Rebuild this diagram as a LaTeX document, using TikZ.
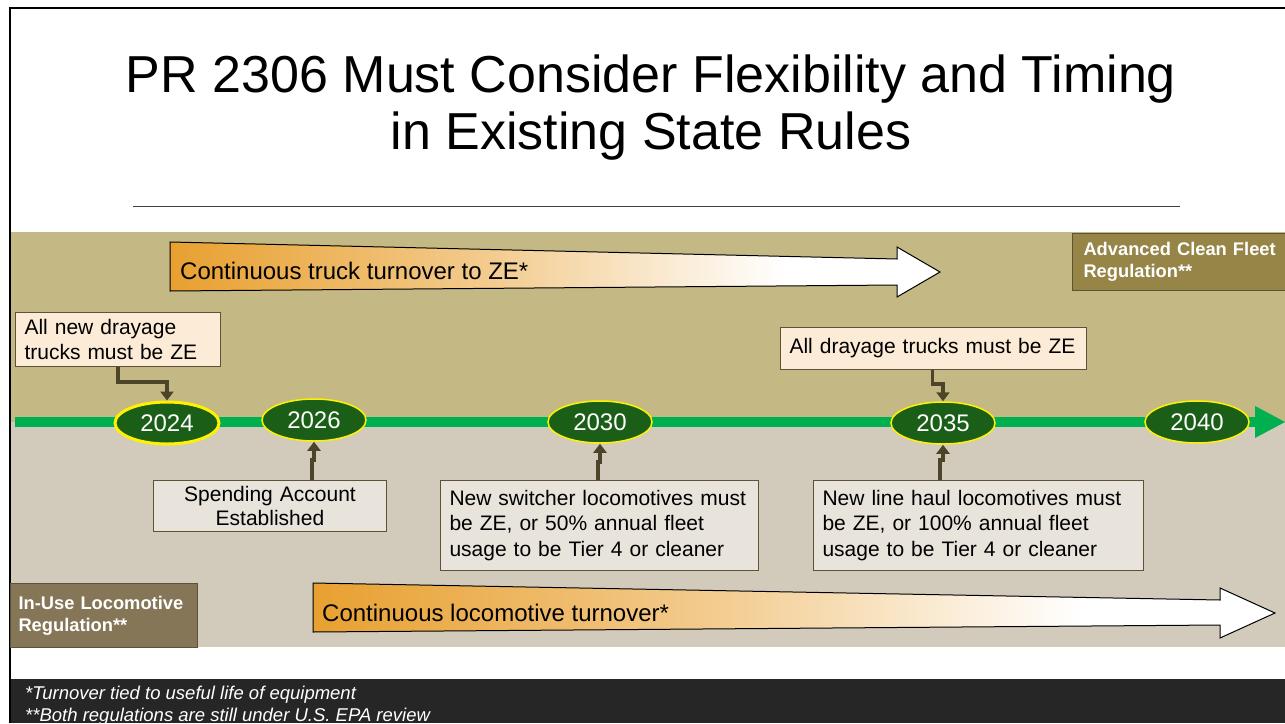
\documentclass[tikz,border=0pt]{standalone}
\usepackage{fontspec}
\setmainfont{Liberation Sans}
\usetikzlibrary{shapes.geometric,arrows.meta}
\definecolor{bandtop}{HTML}{C4B884}
\definecolor{bandbot}{HTML}{D2CBBB}
\definecolor{darkband}{HTML}{262626}
\definecolor{tlgreen}{HTML}{00B050}
\definecolor{yrgreen}{HTML}{1B5E17}
\definecolor{peach}{HTML}{FCEBD6}
\definecolor{grayfill}{HTML}{E8E4DC}
\definecolor{boxline}{HTML}{5B5338}
\definecolor{acffill}{HTML}{968547}
\definecolor{iufill}{HTML}{857657}
\definecolor{connc}{HTML}{4D452A}
\definecolor{ora}{HTML}{E8A030}
\definecolor{oramid}{HTML}{F3CC90}
\pgfdeclarehorizontalshading{orafade}{100bp}{color(0bp)=(ora); color(25bp)=(ora); color(46bp)=(oramid); color(65bp)=(white); color(100bp)=(white)}
\tikzset{
  yearnode/.style={ellipse, fill=yrgreen, draw=yellow, line width=1.5pt, minimum width=104pt, minimum height=42pt, inner sep=0pt, text=white, font=\fontsize{24}{26}\selectfont},
  infobox/.style={rectangle, draw=boxline, line width=1pt, anchor=north west, inner xsep=9pt, inner ysep=0pt, font=\fontsize{21}{25.5}\selectfont, align=left},
  regbox/.style={rectangle, draw=boxline, line width=1pt, anchor=north west, inner xsep=9pt, inner ysep=0pt, text=white, font=\bfseries\fontsize{18.3}{22}\selectfont, align=left},
  conn/.style={draw=connc, line width=3.5pt, -{Triangle[length=9pt,width=13pt]}},
  bigarrow/.style={shading=orafade, draw=black, line width=1pt},
  arrowtext/.style={anchor=base west, inner sep=0pt, font=\fontsize{24}{26}\selectfont},
}
\begin{document}
\begin{tikzpicture}[x=1pt,y=-1pt]
\useasboundingbox (0,0) rectangle (1285,723);
\fill[white] (0,0) rectangle (1285,723);
% bands
\fill[bandtop] (11,232) rectangle (1285,422);
\fill[bandbot] (11,422) rectangle (1285,647);
\fill[darkband] (10,679) rectangle (1285,723);
\draw[line width=2pt] (10,723) -- (10,8) -- (1285,8);
\draw[line width=0.8pt, draw=black!75] (133,206) -- (1180,206);
% title
\node[align=center, font=\fontsize{52}{57}\selectfont, inner sep=0pt] (title) at (651,107.5)
  {PR 2306 Must Consider Flexibility and Timing\\in Existing State Rules};
% big arrows
\path[bigarrow] (170,242) -- (897,259) -- (897,247) -- (940,272) -- (897,297) -- (897,285) -- (170,291) -- cycle;
\node[arrowtext] (trucktxt) at (180,279) {Continuous truck turnover to ZE*};
\path[bigarrow] (313,583) -- (1220,600) -- (1220,588) -- (1275,613) -- (1220,638) -- (1220,625) -- (313,632) -- cycle;
\node[arrowtext] (locotxt) at (322,621) {Continuous locomotive turnover*};
% regulation boxes
\node[regbox, fill=acffill, minimum width=225pt, minimum height=57pt, text width=203pt] (acf) at (1072,233)
  {Advanced Clean Fleet\\Regulation**};
\node[regbox, fill=iufill, minimum width=187pt, minimum height=64pt, text width=171pt, inner xsep=8pt] (iu) at (10,583)
  {In-Use Locomotive\\Regulation**};
% timeline
\draw[tlgreen, line width=10pt] (15,422) -- (1256,422);
\fill[tlgreen] (1255,406) -- (1285,422) -- (1255,438) -- cycle;
\node[yearnode, line width=3pt] (y2024) at (167,423) {2024};
\node[yearnode] (y2026) at (314,420) {2026};
\node[yearnode] (y2030) at (600,422) {2030};
\node[yearnode] (y2035) at (943,423) {2035};
\node[yearnode] (y2040) at (1197,422) {2040};
% info boxes
\node[infobox, fill=peach, text width=187pt, minimum height=54pt, font=\fontsize{21}{25}\selectfont] (bnew) at (15,312)
  {All new drayage\\trucks must be ZE};
\node[infobox, fill=peach, text width=288pt, minimum height=42pt] (ball) at (780,327)
  {All drayage trucks must be ZE};
\node[infobox, fill=grayfill, text width=215pt, minimum height=51pt, align=center, font=\fontsize{21}{24}\selectfont] (bspend) at (153,480)
  {Spending Account\\Established};
\node[infobox, fill=grayfill, text width=300pt, minimum height=90pt] (bswitch) at (440,480)
  {New switcher locomotives must\\be ZE, or 50\% annual fleet\\usage to be Tier 4 or cleaner};
\node[infobox, fill=grayfill, text width=312pt, minimum height=90pt] (bhaul) at (813,480)
  {New line haul locomotives must\\be ZE, or 100\% annual fleet\\usage to be Tier 4 or cleaner};
% connectors
\coordinate (j1) at (167,382);
\draw[conn] (bnew.south) |- (j1) -- (y2024.north);
\draw[conn] ([xshift=-1pt]ball.south) -- ++(0,14) -| (y2035.north);
\draw[conn] ([xshift=-2pt]bspend.north -| y2026.south) -- ++(0,-20) -| (y2026.south);
\draw[conn] ([xshift=-2pt]bswitch.north -| y2030.south) -- ++(0,-18) -| (y2030.south);
\draw[conn] ([xshift=-3pt]bhaul.north -| y2035.south) -- ++(0,-20) -| (y2035.south);
% footer
\node[anchor=base west, inner sep=0pt, text=white, font=\itshape\fontsize{18.5}{22}\selectfont] (fn1) at (25,699)
  {*Turnover tied to useful life of equipment};
\node[anchor=base west, inner sep=0pt, text=white, font=\itshape\fontsize{18.5}{22}\selectfont] (fn2) at (25,721)
  {**Both regulations are still under U.S. EPA review};
\end{tikzpicture}
\end{document}
